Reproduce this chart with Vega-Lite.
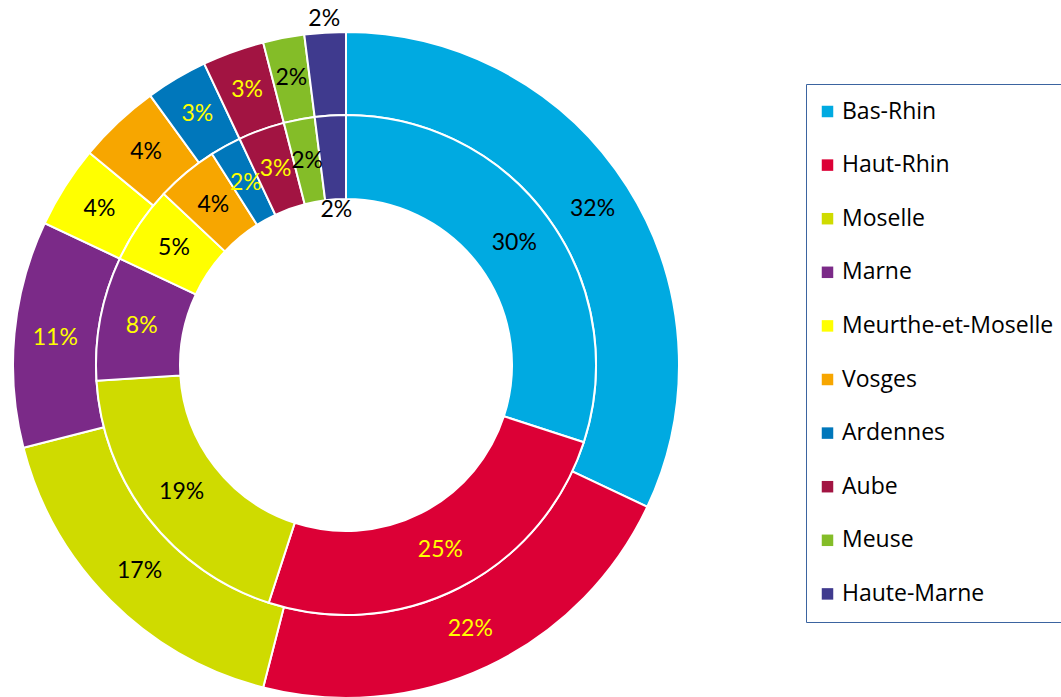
{
  "$schema": "https://vega.github.io/schema/vega-lite/v6.json",
  "width": 692,
  "height": 656,
  "padding": {"left": 0, "top": 7, "right": 0, "bottom": 0},
  "autosize": {"type": "pad"},
  "config": {"view": {"stroke": null}},
  "data": {
    "values": [
      {"ring": "outer", "dept": "Bas-Rhin", "rank": 1, "value": 32},
      {"ring": "outer", "dept": "Haut-Rhin", "rank": 2, "value": 22},
      {"ring": "outer", "dept": "Moselle", "rank": 3, "value": 17},
      {"ring": "outer", "dept": "Marne", "rank": 4, "value": 11},
      {"ring": "outer", "dept": "Meurthe-et-Moselle", "rank": 5, "value": 4},
      {"ring": "outer", "dept": "Vosges", "rank": 6, "value": 4},
      {"ring": "outer", "dept": "Ardennes", "rank": 7, "value": 3},
      {"ring": "outer", "dept": "Aube", "rank": 8, "value": 3},
      {"ring": "outer", "dept": "Meuse", "rank": 9, "value": 2},
      {"ring": "outer", "dept": "Haute-Marne", "rank": 10, "value": 2},
      {"ring": "inner", "dept": "Bas-Rhin", "rank": 1, "value": 30},
      {"ring": "inner", "dept": "Haut-Rhin", "rank": 2, "value": 25},
      {"ring": "inner", "dept": "Moselle", "rank": 3, "value": 19},
      {"ring": "inner", "dept": "Marne", "rank": 4, "value": 8},
      {"ring": "inner", "dept": "Meurthe-et-Moselle", "rank": 5, "value": 5},
      {"ring": "inner", "dept": "Vosges", "rank": 6, "value": 4},
      {"ring": "inner", "dept": "Ardennes", "rank": 7, "value": 2},
      {"ring": "inner", "dept": "Aube", "rank": 8, "value": 3},
      {"ring": "inner", "dept": "Meuse", "rank": 9, "value": 2},
      {"ring": "inner", "dept": "Haute-Marne", "rank": 10, "value": 2}
    ]
  },
  "transform": [{"calculate": "datum.value + '%'", "as": "label"}],
  "layer": [
    {
      "transform": [{"filter": "datum.ring === 'outer'"}],
      "mark": {"type": "arc", "radius": 333, "radius2": 250, "stroke": "white", "strokeWidth": 2},
      "encoding": {
        "theta": {"field": "value", "type": "quantitative", "stack": true},
        "order": {"field": "rank", "type": "quantitative"},
        "color": {
          "field": "dept",
          "type": "nominal",
          "scale": {
            "domain": ["Bas-Rhin", "Haut-Rhin", "Moselle", "Marne", "Meurthe-et-Moselle", "Vosges", "Ardennes", "Aube", "Meuse", "Haute-Marne"],
            "range": ["#00AAE1", "#DC0036", "#CFDB00", "#7B2A88", "#FFFF00", "#F7A600", "#0077BB", "#A21442", "#84BD28", "#3F3A8E"]
          },
          "legend": {
            "title": null,
            "orient": "none",
            "legendX": 806,
            "legendY": 47,
            "symbolType": "square",
            "symbolSize": 132,
            "symbolStrokeWidth": 0,
            "symbolOffset": -6,
            "labelFont": "Open Sans",
            "labelFontSize": 23,
            "labelColor": "#000000",
            "labelOffset": 3,
            "labelLimit": 400,
            "rowPadding": 29.6,
            "padding": 16,
            "strokeColor": "#3B64A0"
          }
        }
      }
    },
    {
      "transform": [{"filter": "datum.ring === 'inner'"}],
      "mark": {"type": "arc", "radius": 250, "radius2": 166, "stroke": "white", "strokeWidth": 2},
      "encoding": {
        "theta": {"field": "value", "type": "quantitative", "stack": true},
        "order": {"field": "rank", "type": "quantitative"},
        "color": {"field": "dept", "type": "nominal"}
      }
    },
    {
      "transform": [{"filter": "datum.ring === 'outer'"}],
      "mark": {"type": "text", "radius": 292, "font": "Lato", "fontSize": 23, "align": "center", "baseline": "middle"},
      "encoding": {
        "theta": {"field": "value", "type": "quantitative", "stack": true},
        "order": {"field": "rank", "type": "quantitative"},
        "text": {"condition": {"test": "datum.dept === 'Haute-Marne'", "value": ""}, "field": "label", "type": "nominal"},
        "color": {"condition": {"test": "indexof(['Haut-Rhin','Marne','Ardennes','Aube'], datum.dept) >= 0", "value": "#FFFF00"}, "value": "#000000"}
      }
    },
    {
      "transform": [{"filter": "datum.ring === 'outer'"}],
      "mark": {"type": "text", "radius": 347, "font": "Lato", "fontSize": 23, "align": "center", "baseline": "middle", "color": "#000000"},
      "encoding": {
        "theta": {"field": "value", "type": "quantitative", "stack": true},
        "order": {"field": "rank", "type": "quantitative"},
        "text": {"condition": {"test": "datum.dept !== 'Haute-Marne'", "value": ""}, "field": "label", "type": "nominal"}
      }
    },
    {
      "transform": [{"filter": "datum.ring === 'inner'"}],
      "mark": {"type": "text", "radius": 208, "font": "Lato", "fontSize": 23, "align": "center", "baseline": "middle"},
      "encoding": {
        "theta": {"field": "value", "type": "quantitative", "stack": true},
        "order": {"field": "rank", "type": "quantitative"},
        "text": {"condition": {"test": "datum.dept === 'Haute-Marne'", "value": ""}, "field": "label", "type": "nominal"},
        "color": {"condition": {"test": "indexof(['Haut-Rhin','Marne','Ardennes','Aube'], datum.dept) >= 0", "value": "#FFFF00"}, "value": "#000000"}
      }
    },
    {
      "transform": [{"filter": "datum.ring === 'inner'"}],
      "mark": {"type": "text", "radius": 155, "font": "Lato", "fontSize": 23, "align": "center", "baseline": "middle", "color": "#000000"},
      "encoding": {
        "theta": {"field": "value", "type": "quantitative", "stack": true},
        "order": {"field": "rank", "type": "quantitative"},
        "text": {"condition": {"test": "datum.dept !== 'Haute-Marne'", "value": ""}, "field": "label", "type": "nominal"}
      }
    }
  ]
}
